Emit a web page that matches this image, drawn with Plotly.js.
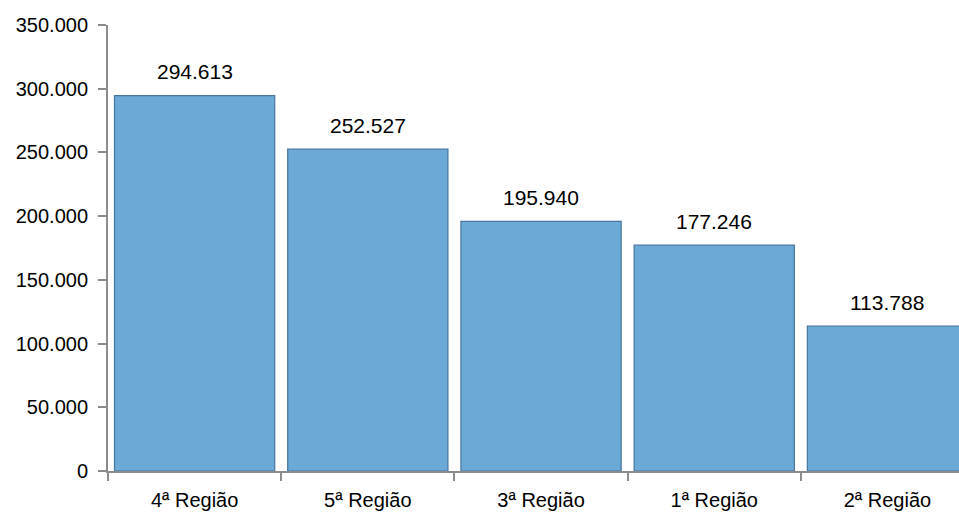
<!DOCTYPE html>
<html><head><meta charset="utf-8">
<script src="https://cdn.plot.ly/plotly-3.0.1.min.js"></script>
<style>html,body{margin:0;padding:0;background:#fff}</style>
</head><body>
<div id="chart" style="width:959px;height:512px"></div>
<script>
const categories = ["4ª Região", "5ª Região", "3ª Região", "1ª Região", "2ª Região"];
const values = [294613, 252527, 195940, 177246, 113788];
const yTicks = [0, 50000, 100000, 150000, 200000, 250000, 300000, 350000];

const font = "Liberation Sans, Arial, sans-serif";
const fmt = v => String(v).replace(/\B(?=(\d{3})+(?!\d))/g, ".");
const annotations = categories.map((c, i) => ({
  x: c, y: values[i], xref: "x", yref: "y",
  text: fmt(values[i]), showarrow: false,
  yanchor: "middle", yshift: 24,
  font: {family: font, size: 21, color: "#000"}
}));

Plotly.newPlot("chart", [{
  type: "bar",
  x: categories,
  y: values,
  marker: {color: "#6BA9D6", line: {color: "#46759E", width: 1.2}},
  hoverinfo: "skip"
}], {
  width: 959, height: 512,
  margin: {l: 108, r: 0, t: 25, b: 41},
  separators: ",.",
  showlegend: false,
  bargap: 0.075,
  annotations: annotations,
  paper_bgcolor: "#fff", plot_bgcolor: "#fff",
  xaxis: {
    type: "category",
    range: [-0.5, 4.413],
    showline: true, linecolor: "#8C8C8C", linewidth: 2,
    ticks: "outside", tickson: "boundaries", ticklen: 8, tickcolor: "#8C8C8C", tickwidth: 2,
    ticklabelstandoff: 10,
    tickfont: {family: font, size: 20, color: "#000"},
    showgrid: false, zeroline: false, fixedrange: true
  },
  yaxis: {
    range: [0, 350000],
    tickvals: yTicks,
    tickformat: ",d",
    showline: true, linecolor: "#8C8C8C", linewidth: 2,
    ticks: "outside", ticklen: 8, tickcolor: "#8C8C8C", tickwidth: 2,
    ticklabelstandoff: 6,
    tickfont: {family: font, size: 20, color: "#000"},
    showgrid: false, zeroline: false, fixedrange: true
  }
}, {staticPlot: true, displayModeBar: false});
</script>
</body></html>
